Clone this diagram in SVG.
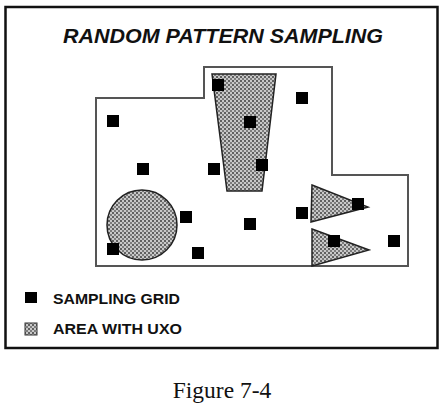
<svg xmlns="http://www.w3.org/2000/svg" width="444" height="406" viewBox="0 0 444 406">
  <style>
    .frame { fill: #fff; stroke: #111; stroke-width: 2.5; }
    .site { fill: #fff; stroke: #555; stroke-width: 2; }
    .uxo { fill: url(#hatch); stroke: #222; stroke-width: 1.5; }
    .grid { fill: #000; }
    .title { font-family: "Liberation Sans", Arial, sans-serif; font-weight: bold; font-style: italic; font-size: 21px; fill: #111; }
    .legend { font-family: "Liberation Sans", Arial, sans-serif; font-weight: bold; font-size: 15px; fill: #111; }
    .caption { font-family: "Liberation Serif", "Times New Roman", serif; font-size: 23.5px; fill: #111; }
  </style>
  <defs>
    <!-- fine checker used for areas with UXO -->
    <pattern id="hatch" width="4" height="4" patternUnits="userSpaceOnUse">
      <rect width="4" height="4" fill="#c8c8c8"/>
      <rect width="2" height="2" fill="#606060"/>
      <rect x="2" y="2" width="2" height="2" fill="#7c7c7c"/>
    </pattern>
  </defs>

  <rect width="444" height="406" fill="#fff"/>
  <rect class="frame" x="5.5" y="7" width="432" height="341"/>

  <text class="title" x="223" y="43" text-anchor="middle" textLength="320" lengthAdjust="spacingAndGlyphs">RANDOM PATTERN SAMPLING</text>

  <!-- site boundary -->
  <g id="site">
    <path class="site" d="M96,266 L96,98 L204,98 L204,67 L332,67 L332,175 L408,175 L408,266 Z"/>
  </g>

  <!-- areas with UXO -->
  <g id="uxo-trapezoid"><polygon class="uxo" points="212,74 276,74 262,191 227,191"/></g>
  <g id="uxo-circle"><circle class="uxo" cx="142" cy="225" r="35"/></g>
  <g id="uxo-triangle-1"><polygon class="uxo" points="312,185 368,207 311,222"/></g>
  <g id="uxo-triangle-2"><polygon class="uxo" points="312,229 369,250 312,266"/></g>

  <!-- sampling grid points -->
  <g id="samples">
    <rect class="grid" x="212" y="79" width="12" height="12"/>
    <rect class="grid" x="296" y="92" width="12" height="12"/>
    <rect class="grid" x="107" y="115" width="12" height="12"/>
    <rect class="grid" x="244" y="116" width="12" height="12"/>
    <rect class="grid" x="137" y="163" width="12" height="12"/>
    <rect class="grid" x="208" y="163" width="12" height="12"/>
    <rect class="grid" x="256" y="159" width="12" height="12"/>
    <rect class="grid" x="180" y="211" width="12" height="12"/>
    <rect class="grid" x="244" y="218" width="12" height="12"/>
    <rect class="grid" x="192" y="247" width="12" height="12"/>
    <rect class="grid" x="107" y="243" width="12" height="12"/>
    <rect class="grid" x="296" y="207" width="12" height="12"/>
    <rect class="grid" x="352" y="198" width="12" height="12"/>
    <rect class="grid" x="328" y="235" width="12" height="12"/>
    <rect class="grid" x="388" y="235" width="12" height="12"/>
  </g>

  <!-- legend -->
  <g id="legend-grid">
    <rect class="grid" x="25" y="292" width="12" height="11"/>
    <text class="legend" x="53" y="304" textLength="127" lengthAdjust="spacingAndGlyphs">SAMPLING GRID</text>
  </g>
  <g id="legend-uxo">
    <rect x="25" y="323" width="12" height="12" fill="url(#hatch)" stroke="#333" stroke-width="1"/>
    <text class="legend" x="53" y="334" textLength="129" lengthAdjust="spacingAndGlyphs">AREA WITH UXO</text>
  </g>

  <text class="caption" x="222" y="398" text-anchor="middle">Figure 7-4</text>
</svg>
